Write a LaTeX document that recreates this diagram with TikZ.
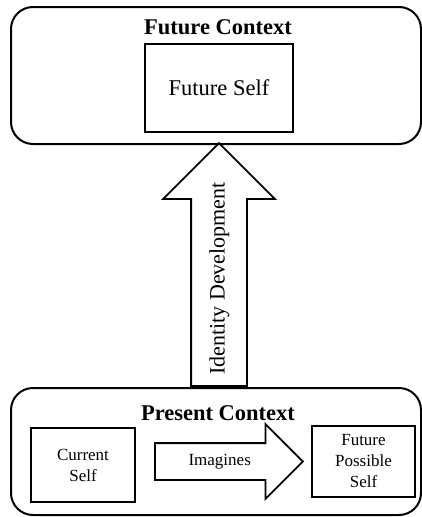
\documentclass[tikz,border=0pt]{standalone}
\usepackage{fontspec}
\setmainfont{Liberation Serif}
\usepackage{tikz}
\usetikzlibrary{shapes.arrows, positioning}
\tikzset{%
	context box/.style={
		draw,
		line width=2pt,
		rounded corners=22pt,
		minimum width=410pt
	},
	self box/.style={
		draw,
		line width=2pt,
		align=center,
		font=\fontsize{17}{21}\selectfont
	},
	block arrow/.style={
		draw,
		line width=1.8pt,
		single arrow,
		single arrow head indent=0pt,
		inner xsep=0pt
	},
}

\begin{document}
\begin{tikzpicture}[x=1pt, y=1pt]
			\useasboundingbox (0,0) rectangle (422,-517);
			\node[context box, minimum height=137pt] (F) at (216,-75.5) {};
			\node[context box, minimum height=127pt] (P) at (216,-451.5) {};
			
			\node[font=\fontsize{22.5}{26}\selectfont\bfseries] (Ft) at (218,-27) {Future Context};
			\node[font=\fontsize{22.5}{26}\selectfont\bfseries] (Pt) at (218,-413) {Present Context};
			
			\node[self box, minimum width=148pt, minimum height=88pt, font=\fontsize{22.5}{26}\selectfont] (FS) at (219,-88) {Future Self};
			\node[self box, minimum width=104pt, minimum height=74pt] (CS) at (83,-465) {Current\\Self};
			\node[self box, minimum width=103pt, minimum height=71pt] (FPS) at (363.5,-461.5) {Future\\Possible\\Self};
			
			\node[block arrow, anchor=tail, minimum height=148pt, text height=12pt, text depth=4pt,
				inner ysep=9.5pt, single arrow head extend=19pt, font=\fontsize{17}{20}\selectfont]
				(I) at (154,-461.5) {Imagines};
			\node[block arrow, anchor=tail, rotate=90, minimum height=243pt, text height=16pt, text depth=5pt,
				inner ysep=16.5pt, single arrow head extend=28pt, font=\fontsize{22}{26}\selectfont]
				(ID) at (P.north -| FS) {Identity Development};
			
		\end{tikzpicture}
\end{document}
